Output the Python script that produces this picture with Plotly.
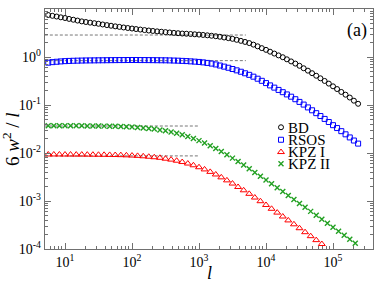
import plotly.graph_objects as go

# ---------------- data ----------------
l_bd = [5.62, 6.49, 7.50, 8.66, 10.0, 11.5, 13.3, 15.4, 17.8, 20.5,
        23.7, 27.4, 31.6, 36.5, 42.2, 48.7, 56.2, 64.9, 75.0, 86.6,
        100, 115, 133, 154, 178, 205, 237, 274, 316, 365,
        422, 487, 562, 649, 750, 866, 1000, 1150, 1330, 1540,
        1780, 2050, 2370, 2740, 3160, 3650, 4220, 4870, 5620, 6490,
        7500, 8660, 10000, 11500, 13300, 15400, 17800, 20500, 23700, 27400,
        31600, 36500, 42200, 48700, 56200, 64900, 75000, 86600, 100000, 115000,
        133000, 154000, 178000, 205000, 237000]

bd = [7.50, 7.21, 6.97, 6.71, 6.49, 6.22, 5.98, 5.74, 5.52, 5.36,
      5.20, 5.06, 4.92, 4.76, 4.62, 4.48, 4.35, 4.24, 4.12, 4.02,
      3.92, 3.82, 3.73, 3.64, 3.56, 3.49, 3.42, 3.36, 3.30, 3.24,
      3.18, 3.13, 3.08, 3.05, 3.01, 2.97, 2.93, 2.88, 2.83, 2.77,
      2.71, 2.64, 2.55, 2.47, 2.39, 2.28, 2.17, 2.06, 1.95, 1.81,
      1.67, 1.53, 1.41, 1.29, 1.18, 1.08, 0.989, 0.895, 0.809, 0.729,
      0.656, 0.583, 0.519, 0.460, 0.407, 0.360, 0.317, 0.279, 0.245, 0.215,
      0.187, 0.164, 0.143, 0.123, 0.106]

rsos = [0.762, 0.782, 0.796, 0.809, 0.820, 0.828, 0.834, 0.839, 0.843, 0.847,
        0.849, 0.851, 0.853, 0.855, 0.857, 0.859, 0.861, 0.863, 0.863, 0.865,
        0.865, 0.865, 0.863, 0.863, 0.861, 0.859, 0.857, 0.855, 0.853, 0.849,
        0.843, 0.838, 0.830, 0.822, 0.811, 0.800, 0.789, 0.773, 0.753, 0.729,
        0.700, 0.664, 0.630, 0.597, 0.562, 0.527, 0.493, 0.458, 0.425, 0.389,
        0.353, 0.319, 0.286, 0.256, 0.230, 0.206, 0.185, 0.166, 0.149, 0.132,
        0.116, 0.102, 0.0891, 0.0776, 0.0676, 0.0589, 0.0513, 0.0442, 0.0380, 0.0331,
        0.0285, 0.0245, 0.0211, 0.0182, 0.0157]

l_kpz2 = [5.62, 6.81, 8.25, 10.0, 12.1, 14.7, 17.8, 21.5, 26.1, 31.6,
          38.3, 46.4, 56.2, 68.1, 82.5, 100, 121, 147, 178, 215,
          261, 316, 383, 464, 562, 681, 825, 1000, 1210, 1470,
          1780, 2150, 2610, 3160, 3830, 4640, 5620, 6810, 8250, 10000,
          12100, 14700, 17800, 21500, 26100, 31600, 38300, 46400, 56200, 68100,
          82500, 100000, 121000, 147000, 178000, 215000]

kpz2 = [0.0371, 0.0371, 0.0370, 0.0370, 0.0369, 0.0369, 0.0368, 0.0367, 0.0366, 0.0365,
        0.0363, 0.0361, 0.0359, 0.0356, 0.0352, 0.0347, 0.0340, 0.0333, 0.0325, 0.0316,
        0.0303, 0.0290, 0.0275, 0.0258, 0.0240, 0.0221, 0.0201, 0.0181, 0.0161, 0.0142,
        0.0124, 0.0107, 0.00918, 0.00782, 0.00664, 0.00560, 0.00470, 0.00394, 0.00329, 0.00274,
        0.00228, 0.00189, 0.00157, 0.00130, 0.00108, 0.000891, 0.000738, 0.000608, 0.000504, 0.000416,
        0.000344, 0.000284, 0.000234, 0.000193, 0.000160, 0.000132]

l_kpz1 = [5.62, 6.81, 8.25, 10.0, 12.1, 14.7, 17.8, 21.5, 26.1, 31.6,
          38.3, 46.4, 56.2, 68.1, 82.5, 100, 121, 147, 178, 215,
          261, 316, 383, 464, 562, 681, 825, 1000, 1210, 1470,
          1780, 2150, 2610, 3160, 3830, 4640, 5620, 6810, 8250, 10000,
          12100, 14700, 17800, 21500, 26100, 31600, 38300, 46400, 56200, 68100]

kpz1 = [0.00932, 0.00932, 0.00932, 0.00929, 0.00929, 0.00927, 0.00927, 0.00924, 0.00922, 0.00919,
        0.00917, 0.00912, 0.00907, 0.00902, 0.00894, 0.00884, 0.00872, 0.00854, 0.00836, 0.00816,
        0.00794, 0.00761, 0.00728, 0.00691, 0.00648, 0.00603, 0.00555, 0.00505, 0.00455, 0.00404,
        0.00357, 0.00311, 0.00269, 0.00231, 0.00196, 0.00167, 0.00141, 0.00118, 0.000990, 0.000826,
        0.000688, 0.000573, 0.000475, 0.000394, 0.000327, 0.000271, 0.000224, 0.000185, 0.000153, 0.000127]

# asymptotic plateau levels (dashed guides)
guide_l_long = [5, 5000]
guide_l_short = [5, 1000]
guide_bd = 2.87
guide_rsos = 0.84
guide_kpz2 = 0.0365
guide_kpz1 = 0.0087

series_names = ["BD", "RSOS", "KPZ I", "KPZ II"]

x_tickvals = [10, 100, 1000, 10000, 100000]
x_ticktext = ["10<sup>1</sup>", "10<sup>2</sup>", "10<sup>3</sup>", "10<sup>4</sup>", "10<sup>5</sup>"]
y_tickvals = [1e-4, 1e-3, 1e-2, 1e-1, 1, 10]
y_ticktext = ["10<sup>-4</sup>", "10<sup>-3</sup>", "10<sup>-2</sup>", "10<sup>-1</sup>",
              "10<sup>0</sup>", "10<sup>1</sup>"]

# ---------------- figure ----------------
SERIF = "Liberation Serif, Times New Roman, serif"
AXC = "#707070"
DASH = dict(color="#777777", width=1, dash="3px,2px")

fig = go.Figure()

for gl, gv in [(guide_l_long, guide_bd), (guide_l_long, guide_rsos),
               (guide_l_short, guide_kpz2), (guide_l_short, guide_kpz1)]:
    fig.add_trace(go.Scatter(x=gl, y=[gv, gv], mode="lines", line=DASH,
                             showlegend=False, hoverinfo="skip"))

styles = [
    (l_bd, bd, dict(symbol="circle-open", size=5, color="black", line=dict(width=1, color="black")), "legend"),
    (l_bd, rsos, dict(symbol="square-open", size=5, color="#0000ff", line=dict(width=1, color="#0000ff")), "legend2"),
    (l_kpz1, kpz1, dict(symbol="triangle-up-open", size=6, color="#ff0000", line=dict(width=1, color="#ff0000")), "legend3"),
    (l_kpz2, kpz2, dict(symbol="x-thin-open", size=5, color="#22a022", line=dict(width=1.4, color="#22a022")), "legend4"),
]
for (xs, ys, mk, lg) in styles:
    fig.add_trace(go.Scatter(x=xs, y=ys, mode="markers", marker=mk, name="",
                             legend=lg, showlegend=True))

W, H = 382, 284
ML, MR, MT, MB = 45, 9, 9, 35
PW, PH = W - ML - MR, H - MT - MB


def px_x(px):
    return (px - ML) / PW


def px_y(py):
    return (H - MB - py) / PH


leg_y_px = [127.5, 140.0, 152.3, 164.0]
leg_common = dict(bgcolor="rgba(0,0,0,0)", borderwidth=0, xanchor="left", yanchor="middle",
                  font=dict(family=SERIF, size=15, color="black"), itemwidth=30,
                  tracegroupgap=0)
legends = {}
for i, key in enumerate(["legend", "legend2", "legend3", "legend4"]):
    legends[key] = dict(x=px_x(261), y=px_y(leg_y_px[i]), **leg_common)

annotations = []
for i, nm in enumerate(series_names):
    annotations.append(dict(text=nm, xref="paper", yref="paper", x=px_x(287), y=px_y(leg_y_px[i]),
                            xanchor="left", yanchor="middle", showarrow=False, borderpad=0,
                            font=dict(family=SERIF, size=15, color="black")))
annotations.append(dict(text="(a)", xref="paper", yref="paper", x=px_x(356.5), y=px_y(30),
                        xanchor="center", yanchor="middle", showarrow=False,
                        font=dict(family=SERIF, size=18, color="black")))
annotations.append(dict(text="6 <i>w</i><sup>2</sup> / <i>l</i>", xref="paper", yref="paper",
                        x=px_x(10.5), y=px_y(139.5), xanchor="center", yanchor="middle",
                        textangle=-90, showarrow=False,
                        font=dict(family=SERIF, size=19, color="black")))
annotations.append(dict(text="<i>l</i>", xref="paper", yref="paper",
                        x=px_x(209), y=px_y(272.5), xanchor="center", yanchor="middle",
                        showarrow=False, borderpad=0,
                        font=dict(family=SERIF, size=18, color="black")))

axis_common = dict(type="log", showline=True, linecolor=AXC, linewidth=1.3, mirror="allticks",
                   ticks="inside", ticklen=6, tickwidth=1, tickcolor=AXC, showgrid=False,
                   zeroline=False, tickmode="array",
                   tickfont=dict(family=SERIF, size=14, color="black"),
                   minor=dict(ticks="inside", ticklen=3, tickwidth=1, tickcolor=AXC,
                              tickmode="linear", dtick="D1", showgrid=False))

fig.update_layout(
    width=W, height=H,
    margin=dict(l=ML, r=MR, t=MT, b=MB, pad=0),
    paper_bgcolor="white", plot_bgcolor="white",
    xaxis=dict(range=[0.7015, 5.597], tickvals=x_tickvals, ticktext=x_ticktext, **axis_common),
    yaxis=dict(range=[-4, 1], tickvals=y_tickvals, ticktext=y_ticktext, **axis_common),
    annotations=annotations,
    **legends,
)

fig.write_html("out.html",
               config={"displayModeBar": False, "staticPlot": True},
               post_script="document.body.style.margin='0';document.body.style.overflow='hidden';")
